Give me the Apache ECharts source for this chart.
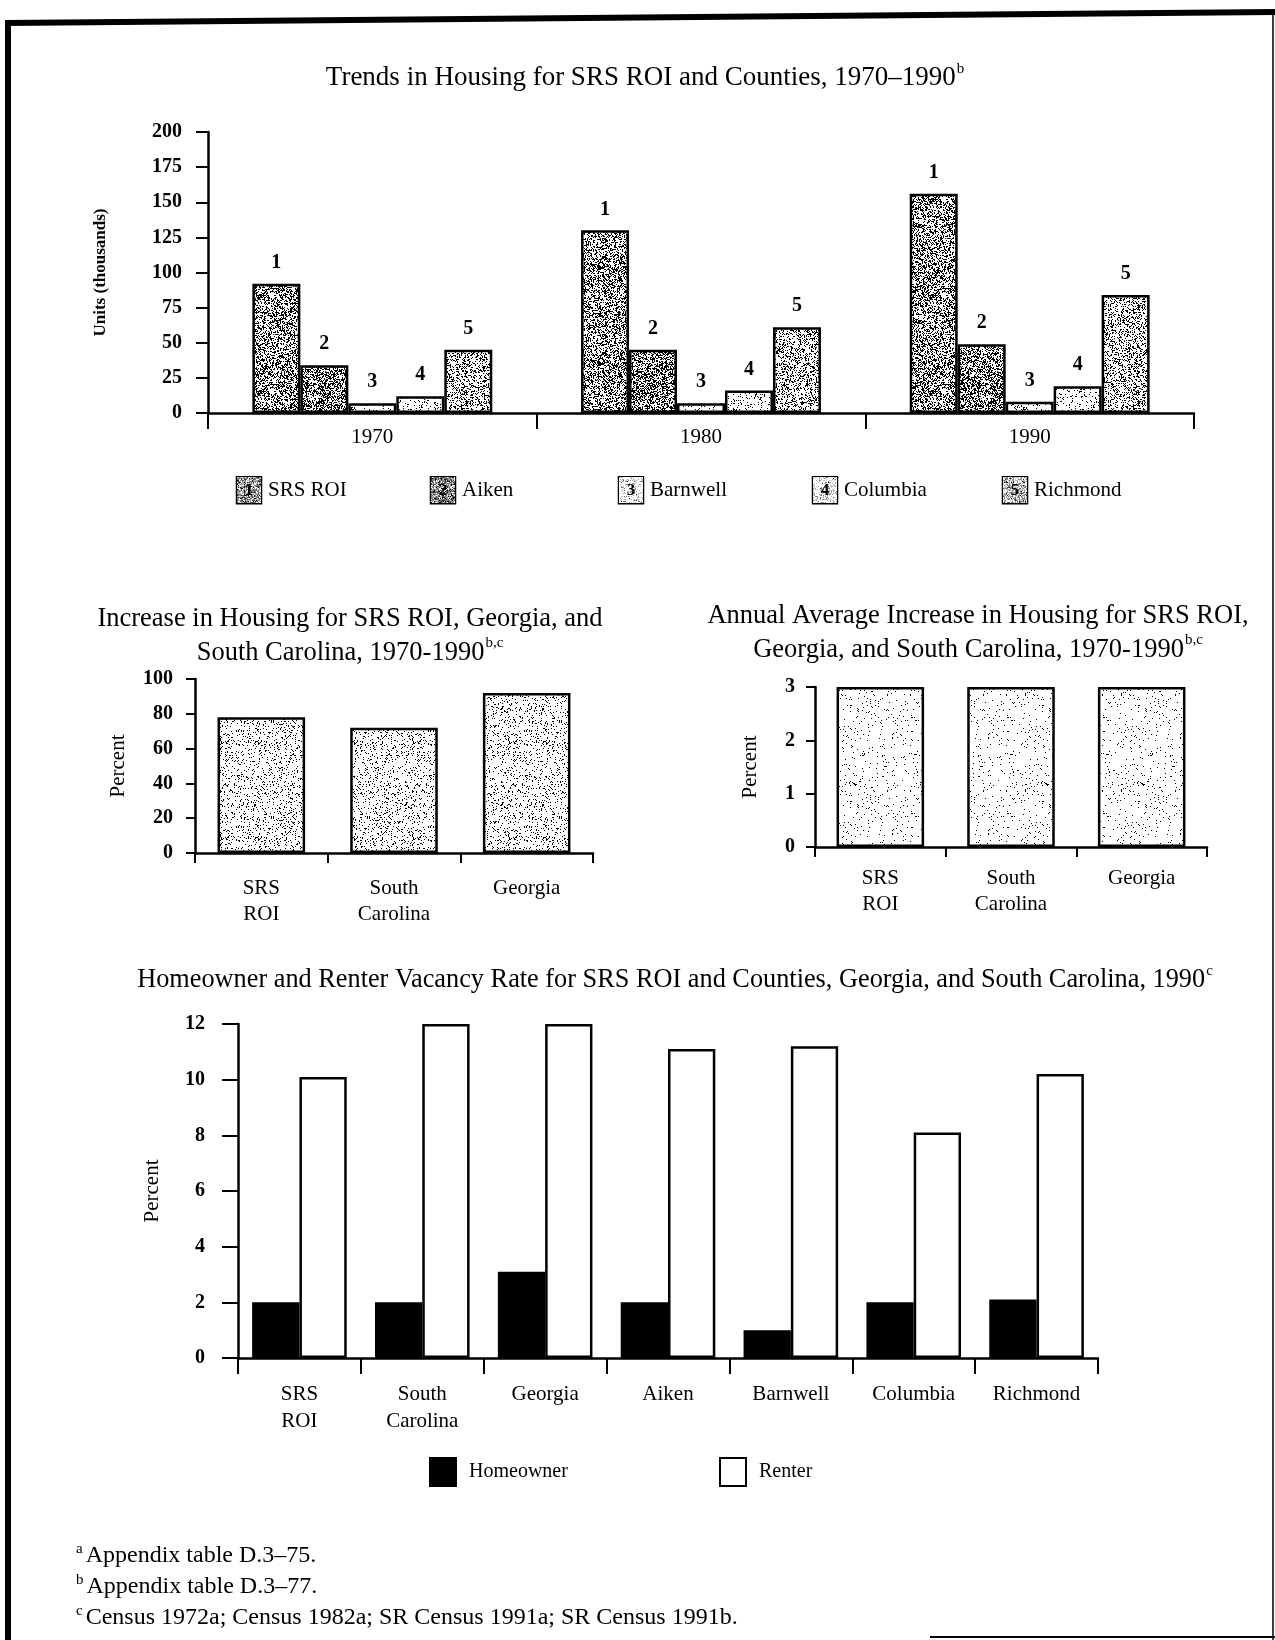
<!DOCTYPE html>
<html>
<head>
<meta charset="utf-8">
<script src="https://cdn.jsdelivr.net/npm/echarts@6.0.0/dist/echarts.min.js"></script>
<style>
  html, body { margin: 0; padding: 0; background: #fff; }
  #chart { width: 1275px; height: 1640px; }
</style>
</head>
<body>
<div id="chart"></div>
<script>
// ---- Housing units by area (thousands) ----
const years = ['1970', '1980', '1990'];
const areaNames = ['SRS ROI', 'Aiken', 'Barnwell', 'Columbia', 'Richmond'];
const areaMarks = ['1', '2', '3', '4', '5'];
const unitsSrsRoi = [92, 130, 156];
const unitsAiken = [34, 45, 49];
const unitsBarnwell = [7, 7, 8];
const unitsColumbia = [12, 16, 19];
const unitsRichmond = [45, 61, 84];

// ---- Increase in housing, 1970-1990 ----
const stateAreas = ['SRS\nROI', 'South\nCarolina', 'Georgia'];
const increasePct = [78, 72, 92];
const annualIncreasePct = [3, 3, 3];

// ---- Vacancy rates, 1990 ----
const vacancyAreas = ['SRS\nROI', 'South\nCarolina', 'Georgia', 'Aiken', 'Barnwell', 'Columbia', 'Richmond'];
const homeownerPct = [2.0, 2.0, 3.1, 2.0, 1.0, 2.0, 2.1];
const renterPct = [10.1, 12.0, 12.0, 11.1, 11.2, 8.1, 10.2];
const tenureNames = ['Homeowner', 'Renter'];

// ---- Source notes ----
const noteMarks = ['a', 'b', 'c'];
const noteTexts = [
  'Appendix table D.3\u201375.',
  'Appendix table D.3\u201377.',
  'Census 1972a; Census 1982a; SR Census 1991a; SR Census 1991b.'
];

const unitsBySeries = [unitsSrsRoi, unitsAiken, unitsBarnwell, unitsColumbia, unitsRichmond];

const FONT = '"Liberation Serif", "Times New Roman", serif';
const INK = '#000';

// Deterministic speckle texture used as a print-style bar fill
function grain(x, y, seed) {
  let h = (Math.imul(x, 374761393) + Math.imul(y, 668265263) + Math.imul(seed, 982451653)) | 0;
  h = Math.imul(h ^ (h >>> 13), 1274126177);
  h = h ^ (h >>> 16);
  return (h >>> 0) / 4294967296;
}
function stipple(density, seed) {
  const size = 96;
  const c = document.createElement('canvas');
  c.width = size; c.height = size;
  const g = c.getContext('2d');
  g.fillStyle = '#fff';
  g.fillRect(0, 0, size, size);
  g.fillStyle = '#000';
  for (let y = 0; y < size; y++) {
    for (let x = 0; x < size; x++) {
      if (grain(x, y, seed) < density) g.fillRect(x, y, 1, 1);
    }
  }
  return c;
}
const areaTextures = [0.42, 0.48, 0.10, 0.12, 0.30].map((d, i) => stipple(d, i + 1));
const increaseTexture = stipple(0.12, 11);
const annualTexture = stipple(0.04, 12);
const pattern = (canvas) => ({ image: canvas, repeat: 'repeat' });

const chart = echarts.init(document.getElementById('chart'), null, { renderer: 'canvas' });

const axisLine = { show: true, lineStyle: { color: INK, width: 2.5 } };
const sup = { fontSize: 15, fontFamily: FONT, fontWeight: 'normal', color: INK, verticalAlign: 'top', padding: [0, 0, 10, 1] };
const main = (size, lh) => ({ fontSize: size, fontFamily: FONT, fontWeight: 'normal', color: INK, lineHeight: lh });

function valueAxis(grid, min, max, step, labelMargin, tickLen, name, nameGap, nameStyle) {
  return {
    type: 'value', gridIndex: grid, min: min, max: max, interval: step,
    axisLine: axisLine,
    axisTick: { show: true, inside: false, length: tickLen, lineStyle: { color: INK, width: 2 } },
    splitLine: { show: false },
    axisLabel: { fontSize: 20, fontWeight: 'bold', fontFamily: FONT, color: INK, margin: labelMargin },
    name: name, nameLocation: 'middle', nameRotate: 90, nameGap: nameGap,
    nameTextStyle: Object.assign({ fontFamily: FONT, color: INK }, nameStyle)
  };
}
function categoryAxis(grid, data, labelMargin, tickLen, lineHeight) {
  return {
    type: 'category', gridIndex: grid, data: data,
    axisLine: axisLine,
    axisTick: { show: true, length: tickLen, lineStyle: { color: INK, width: 2 } },
    axisLabel: { fontSize: 21, fontFamily: FONT, color: INK, margin: labelMargin, lineHeight: lineHeight, interval: 0 }
  };
}

// Numbered key boxes for the housing-trend chart, one legend per county
const areaKeyLeft = [227, 421, 609, 803, 993];
const areaLegends = areaNames.map((name, i) => {
  const rich = {
    n: { fontSize: 21, fontFamily: FONT, color: INK, padding: [0, 0, 0, 7] }
  };
  rich.k = {
    width: 24, height: 26, lineHeight: 26, align: 'center',
    borderColor: INK, borderWidth: 2.5,
    backgroundColor: { image: areaTextures[i] },
    fontSize: 17, fontWeight: 'bold', fontFamily: FONT, color: INK
  };
  return {
    data: [name], left: areaKeyLeft[i], top: 471,
    icon: 'none', itemWidth: 0, itemHeight: 26, selectedMode: false,
    formatter: function (n) { return '{k|' + areaMarks[i] + '}{n|' + n + '}'; },
    textStyle: { rich: rich }
  };
});
const tenureKeyLeft = [424, 714];
const tenureLegends = tenureNames.map((name, i) => ({
  data: [name], left: tenureKeyLeft[i], top: 1452,
  icon: 'rect', itemWidth: 26, itemHeight: 28, selectedMode: false,
  textStyle: { fontSize: 20, fontFamily: FONT, color: INK, padding: [0, 0, 0, 8] }
}));

const option = {
  backgroundColor: '#fff',
  animation: false,
  title: [
    {
      text: '{m|Trends in Housing for SRS ROI and Counties, 1970\u20131990}{s|b}',
      left: 640, textAlign: 'center', top: 57,
      textStyle: { fontWeight: 'normal', rich: { m: main(27, 32), s: sup } }
    },
    {
      text: '{m|Increase in Housing for SRS ROI, Georgia, and}\n{m|South Carolina, 1970-1990}{s|b,c}',
      left: 345, textAlign: 'center', top: 597,
      textStyle: { fontWeight: 'normal', rich: { m: main(26.5, 34), s: sup } }
    },
    {
      text: '{m|Annual Average Increase in Housing for SRS ROI,}\n{m|Georgia, and South Carolina, 1970-1990}{s|b,c}',
      left: 973, textAlign: 'center', top: 594,
      textStyle: { fontWeight: 'normal', rich: { m: main(26.5, 34), s: sup } }
    },
    {
      text: '{m|Homeowner and Renter Vacancy Rate for SRS ROI and Counties, Georgia, and South Carolina, 1990}{s|c}',
      left: 670, textAlign: 'center', top: 959,
      textStyle: { fontWeight: 'normal', rich: { m: main(26.3, 32), s: sup } }
    }
  ].concat(noteTexts.map((t, i) => ({
    text: '{s|' + noteMarks[i] + '}{m|' + t + '}',
    left: 71, top: 1537 + i * 31,
    textStyle: {
      fontWeight: 'normal',
      rich: {
        m: main(24, 28),
        s: { fontSize: 15, fontFamily: FONT, fontWeight: 'normal', color: INK, verticalAlign: 'top', padding: [0, 3, 12, 0] }
      }
    }
  }))),
  legend: areaLegends.concat(tenureLegends),
  grid: [
    { left: 208, top: 132, width: 986, height: 281 },
    { left: 195, top: 679, width: 398, height: 174 },
    { left: 815, top: 687, width: 392, height: 160 },
    { left: 238, top: 1024, width: 860, height: 334 }
  ],
  xAxis: [
    categoryAxis(0, years, 12, 16, 24),
    categoryAxis(1, stateAreas, 22, 10, 26),
    categoryAxis(2, stateAreas, 18, 10, 26),
    categoryAxis(3, vacancyAreas, 23, 16, 27)
  ],
  yAxis: [
    valueAxis(0, 0, 200, 25, 26, 12, 'Units (thousands)', 99, { fontSize: 17, fontWeight: 'bold' }),
    valueAxis(1, 0, 100, 20, 22, 9, 'Percent', 66, { fontSize: 21 }),
    valueAxis(2, 0, 3, 1, 20, 9, 'Percent', 54, { fontSize: 21 }),
    valueAxis(3, 0, 12, 2, 33, 16, 'Percent', 75, { fontSize: 21 })
  ],
  series: areaNames.map((name, i) => ({
    name: name, type: 'bar', xAxisIndex: 0, yAxisIndex: 0,
    data: unitsBySeries[i],
    barGap: '0%', barCategoryGap: '27%',
    itemStyle: { color: pattern(areaTextures[i]), borderColor: INK, borderWidth: 2.5 },
    label: {
      show: true, position: 'top', distance: 11,
      formatter: function () { return areaMarks[i]; },
      fontSize: 20, fontWeight: 'bold', fontFamily: FONT, color: INK
    }
  })).concat([
    {
      name: 'Increase', type: 'bar', xAxisIndex: 1, yAxisIndex: 1,
      data: increasePct, barCategoryGap: '34%',
      itemStyle: { color: pattern(increaseTexture), borderColor: INK, borderWidth: 2.5 }
    },
    {
      name: 'Annual', type: 'bar', xAxisIndex: 2, yAxisIndex: 2,
      data: annualIncreasePct, barCategoryGap: '33%',
      itemStyle: { color: pattern(annualTexture), borderColor: INK, borderWidth: 2.5 }
    },
    {
      name: tenureNames[0], type: 'bar', xAxisIndex: 3, yAxisIndex: 3,
      data: homeownerPct, barGap: '0%', barCategoryGap: '23%',
      itemStyle: { color: INK, borderColor: INK, borderWidth: 2 }
    },
    {
      name: tenureNames[1], type: 'bar', xAxisIndex: 3, yAxisIndex: 3,
      data: renterPct, barGap: '0%', barCategoryGap: '23%',
      itemStyle: { color: '#fff', borderColor: INK, borderWidth: 2.5 }
    }
  ]),
  graphic: [
    // page frame
    { type: 'line', shape: { x1: 8, y1: 20, x2: 8, y2: 1640 }, style: { stroke: INK, lineWidth: 6 } },
    { type: 'line', shape: { x1: 5, y1: 23, x2: 1275, y2: 12 }, style: { stroke: INK, lineWidth: 6 } },
    { type: 'line', shape: { x1: 1273, y1: 12, x2: 1273, y2: 1640 }, style: { stroke: INK, lineWidth: 1.5 } },
    { type: 'line', shape: { x1: 930, y1: 1637, x2: 1275, y2: 1637 }, style: { stroke: INK, lineWidth: 2 } }
  ]
};

chart.setOption(option);
</script>
</body>
</html>
